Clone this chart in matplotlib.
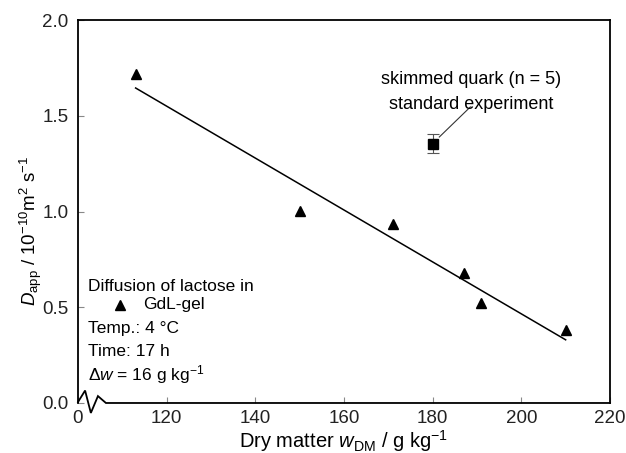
import numpy as np
import matplotlib
matplotlib.use("Agg")
import matplotlib.pyplot as plt

plt.rcParams["font.family"] = ["Liberation Sans", "DejaVu Sans"]
plt.rcParams["mathtext.fontset"] = "custom"
plt.rcParams["mathtext.rm"] = "Liberation Sans"
plt.rcParams["mathtext.it"] = "Liberation Sans:italic"

# GdL-gel measurements
x_gel = [113, 150, 171, 187, 191, 210]
y_gel = [1.72, 1.005, 0.935, 0.68, 0.52, 0.38]

# regression line end points
x_fit = [113, 210]
y_fit = [1.645, 0.33]

# skimmed quark standard experiment
x_quark = [180]
y_quark = [1.355]
err_quark = [0.05]

x_ticks = [100, 120, 140, 160, 180, 200, 220]
x_ticklabels = ["0", "120", "140", "160", "180", "200", "220"]
y_ticks = [0.0, 0.5, 1.0, 1.5, 2.0]

fig = plt.figure(figsize=(6.26, 4.53), dpi=100)
ax = fig.add_axes([0.1246, 0.1104, 0.8498, 0.8454])

ax.plot(x_fit, y_fit, color="black", lw=1.1)
ax.plot(x_gel, y_gel, "^", color="black", ms=7)
ax.errorbar(x_quark, y_quark, yerr=err_quark, fmt="s", color="black", ms=7,
            ecolor="#555555", elinewidth=0.8, capsize=4, capthick=0.8)

ax.set_xlim(100, 220)
ax.set_ylim(0, 2.0)
ax.set_xticks(x_ticks)
ax.set_xticklabels(x_ticklabels)
ax.set_yticks(y_ticks)
ax.set_yticklabels([f"{v:.1f}" for v in y_ticks])
ax.tick_params(direction="in", length=4, color="#888888", labelsize=13.5, labelcolor="#222222")
ax.tick_params(axis="y", pad=7)
ax.tick_params(axis="x", pad=5)

for s in ax.spines.values():
    s.set_linewidth(1.3)
ax.spines["bottom"].set_visible(False)

# broken axis: bottom line with zigzag
zx = [100, 101.6, 102.9, 104.5, 106.3, 220]
zy = [0.005, 0.065, -0.052, 0.036, 0.0, 0.0]
ax.plot(zx, zy, color="black", lw=1.3, clip_on=False, solid_joinstyle="miter")

ax.set_xlabel("Dry matter $\\mathit{w}_{\\mathrm{DM}}$ / g kg$^{-1}$", fontsize=14.5)
ax.xaxis.set_label_coords(0.5, -0.066)
ax.set_ylabel("$\\mathit{D}_{\\mathrm{app}}$ / 10$^{-10}$m$^{2}$ s$^{-1}$", fontsize=13.5)
ax.yaxis.set_label_coords(-0.064, 0.45)

# annotation for the quark point
ax.text(188.7, 1.687, "skimmed quark (n = 5)", fontsize=13, ha="center", va="center")
ax.text(188.7, 1.561, "standard experiment", fontsize=13, ha="center", va="center")
ax.plot([188.5, 181.5], [1.546, 1.389], color="#333333", lw=0.8)

tx = 102.3
fs = 12.5
ax.text(tx, 0.607, "Diffusion of lactose in", fontsize=fs, va="center")
ax.plot([109.5], [0.513], "^", color="black", ms=7)
ax.text(114.7, 0.513, "GdL-gel", fontsize=fs, va="center")
ax.text(tx, 0.39, "Temp.: 4 \u00b0C", fontsize=fs, va="center")
ax.text(tx, 0.27, "Time: 17 h", fontsize=fs, va="center")
ax.text(tx, 0.15, "$\\Delta\\mathit{w}$ = 16 g kg$^{-1}$", fontsize=fs, va="center")

fig.savefig("out.png", dpi=100, facecolor="white")
